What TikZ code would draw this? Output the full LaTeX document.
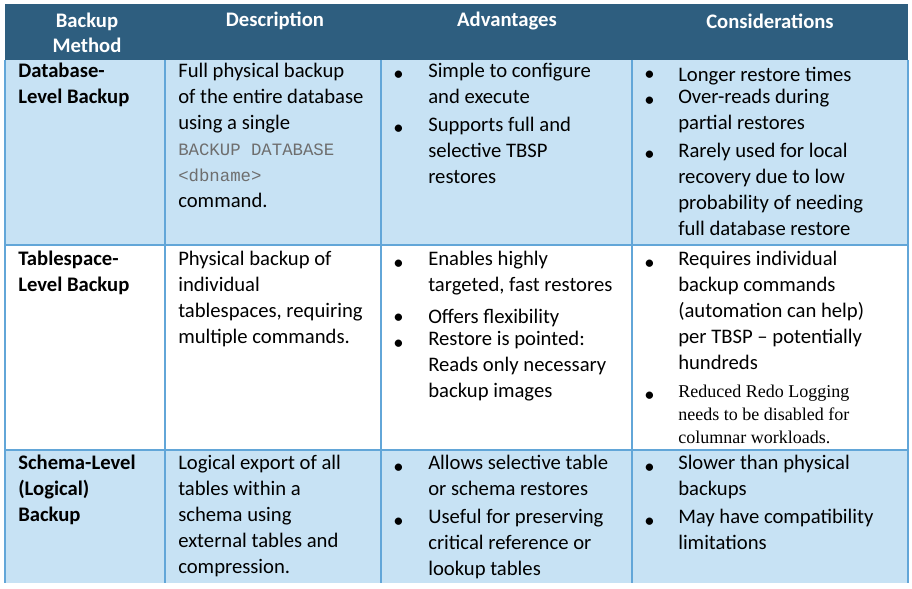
\documentclass[tikz,border=0pt]{standalone}
\usepackage{fontspec}
\setmainfont{Carlito}
\newfontfamily\codefont{Liberation Mono}
\newfontfamily\timesfont{Liberation Serif}
\begin{document}
\begin{tikzpicture}[x=0.75pt,y=-0.75pt]
    % Define custom colors
    \definecolor{headblue}{RGB}{46,94,127}
    \definecolor{rowblue}{RGB}{199,226,244}
    \definecolor{gridblue}{RGB}{98,166,216}
    \definecolor{codegray}{RGB}{110,110,110}
    \tikzset{
        cell/.style={anchor=north west, align=left, inner sep=0pt,
            font=\fontsize{15.5}{19.5}\selectfont, execute at begin node=\strut},
        head/.style={align=center, inner sep=0pt, text=white,
            font=\fontsize{15.5}{19}\selectfont\bfseries},
        dot/.style={anchor=base west, inner sep=0pt,
            font=\fontsize{15.5}{19.5}\selectfont}
    }
    \useasboundingbox (0,0) rectangle (912,588);

    % Background fills
    \fill[headblue] (5,4) rectangle (908,60);
    \fill[rowblue] (5,60) rectangle (908,245);
    \fill[white] (5,245) rectangle (908,450);
    \fill[rowblue] (5,450) rectangle (908,583);

    % Grid lines
    \draw[gridblue, line width=1.5pt] (5,60) -- (5,583);
    \foreach \xx in {165,381,632} \draw[gridblue, line width=1.5pt] (\xx,60) -- (\xx,583);
    \draw[gridblue, line width=1.5pt] (908,60) -- (908,583);
    \foreach \yy in {245,450} \draw[gridblue, line width=1.5pt] (5,\yy) -- (908,\yy);

    % Header
    \node[head] (hmethod) at (87,33) {Backup\\Method};
    \node[head] (hdesc) at (275,21) {Description};
    \node[head] (hadv) at (507,21) {Advantages};
    \node[head] (hcons) at (770,21) {Considerations};

    \begin{scope}
    \clip (0,0) rectangle (912,583);
    % Row 1
    \node[cell, font=\fontsize{15.5}{19.5}\selectfont\bfseries] (m1) at (18,63) {Database-\\Level Backup};
    \node[cell] (d1) at (178,63) {Full physical backup\\of the entire database\\using a single\\
        {\codefont\color{codegray}\fontsize{13}{19.5}\selectfont BACKUP DATABASE}\\
        {\codefont\color{codegray}\fontsize{13}{19.5}\selectfont <dbname>}\\command.};
    \node[dot] at (393,81) {•}; \node[cell] (a1a) at (428,63) {Simple to configure\\and execute};
    \node[dot] at (393,135) {•}; \node[cell] (a1b) at (428,117) {Supports full and\\selective TBSP\\restores};
    \node[dot] at (644,81) {•}; \node[cell] (c1a) at (678,63) {Longer restore times};
    \node[dot] at (644,107) {•}; \node[cell] (c1b) at (678,89) {Over-reads during\\partial restores};
    \node[dot] at (644,161) {•}; \node[cell] (c1c) at (678,143) {Rarely used for local\\recovery due to low\\probability of needing\\full database restore};

    % Row 2
    \node[cell, font=\fontsize{15.5}{19.5}\selectfont\bfseries] (m2) at (18,251) {Tablespace-\\Level Backup};
    \node[cell] (d2) at (178,251) {Physical backup of\\individual\\tablespaces, requiring\\multiple commands.};
    \node[dot] at (393,269) {•}; \node[cell] (a2a) at (428,251) {Enables highly\\targeted, fast restores};
    \node[dot] at (393,323) {•}; \node[cell] (a2b) at (428,305) {Offers flexibility};
    \node[dot] at (393,349) {•}; \node[cell] (a2c) at (428,331) {Restore is pointed:\\Reads only necessary\\backup images};
    \node[dot] at (644,269) {•}; \node[cell] (c2a) at (678,251) {Requires individual\\backup commands\\(automation can help)\\per TBSP -- potentially\\hundreds};
    \node[dot] at (644,401) {•}; \node[cell, font=\timesfont\fontsize{13.5}{17}\selectfont] (c2b) at (678,385) {Reduced Redo Logging\\needs to be disabled for\\columnar workloads.};

    % Row 3
    \node[cell, font=\fontsize{15.5}{19.5}\selectfont\bfseries] (m3) at (18,455) {Schema-Level\\(Logical)\\Backup};
    \node[cell] (d3) at (178,455) {Logical export of all\\tables within a\\schema using\\external tables and\\compression.};
    \node[dot] at (393,473) {•}; \node[cell] (a3a) at (428,455) {Allows selective table\\or schema restores};
    \node[dot] at (393,527) {•}; \node[cell] (a3b) at (428,509) {Useful for preserving\\critical reference or\\lookup tables};
    \node[dot] at (644,473) {•}; \node[cell] (c3a) at (678,455) {Slower than physical\\backups};
    \node[dot] at (644,527) {•}; \node[cell] (c3b) at (678,509) {May have compatibility\\limitations};
    \end{scope}
\end{tikzpicture}
\end{document}
